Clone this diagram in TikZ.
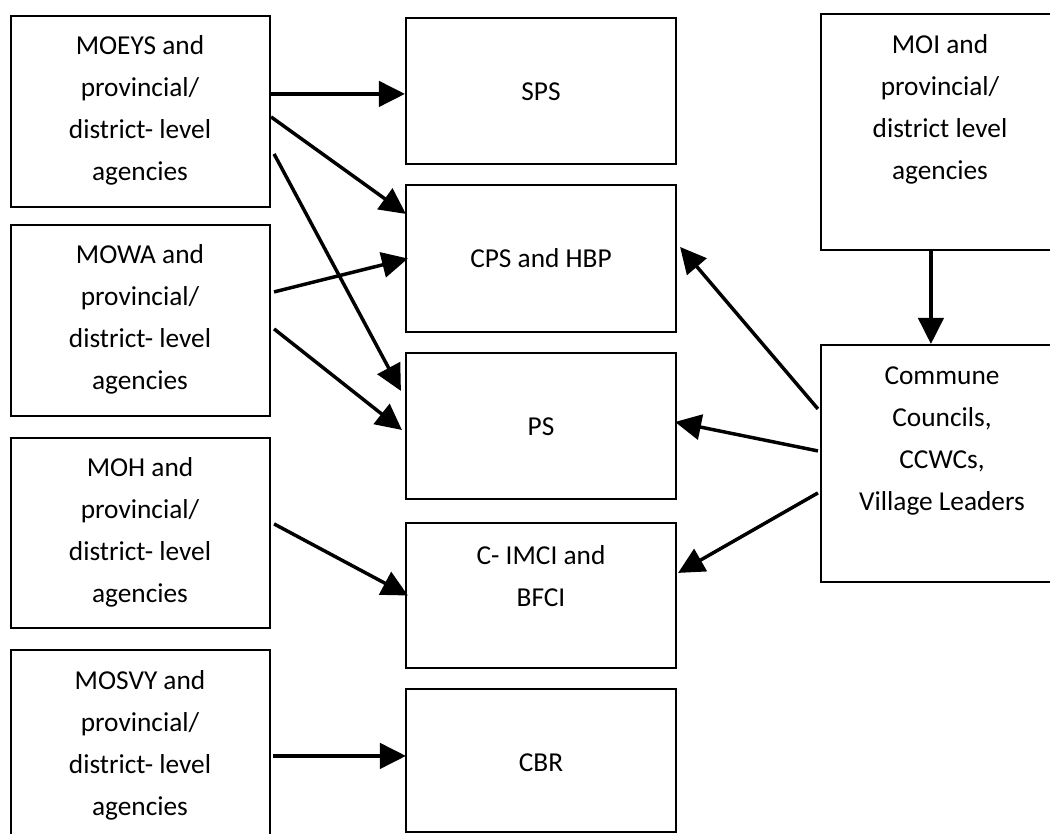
\documentclass[tikz,border=0pt]{standalone}
\usepackage{fontspec}
\setmainfont{Carlito}
\usetikzlibrary{arrows.meta,calc,fit}
\begin{document}
\begin{tikzpicture}[x=0.75pt,y=-0.75pt,
  box/.style={draw,line width=1.6pt,inner sep=0pt},
  txt/.style={align=center,inner sep=0pt,font=\fontsize{20.5pt}{31.5pt}\selectfont},
  arr/.style={line width=2.6pt,-{Triangle[length=19.5pt,width=19pt]}}]
\useasboundingbox (0,0) rectangle (1050,834);
\clip (0,0) rectangle (1050,834);
\fill[white] (0,0) rectangle (1050,834);
% left column
\node[box,fit={(11,16) (270,207)}] (moeys) {};
\node[box,fit={(11,225) (270,416)}] (mowa) {};
\node[box,fit={(11,438) (270,628)}] (moh) {};
\node[box,fit={(11,650) (270,845)}] (mosvy) {};
% middle column
\node[box,fit={(406,18) (676,164)}] (sps) {};
\node[box,fit={(406,185) (676,332)}] (cps) {};
\node[box,fit={(406,353) (676,499)}] (ps) {};
\node[box,fit={(406,523) (676,668)}] (cimci) {};
\node[box,fit={(406,689) (676,832)}] (cbr) {};
% right column
\node[box,fit={(821,14) (1065,250)}] (moi) {};
\node[box,fit={(821,345) (1065,582)}] (commune) {};
% texts
\node[txt] (moeyst) at (140,110.5) {MOEYS and\\provincial/\\district- level\\agencies};
\node[txt] (mowat) at (140,319.5) {MOWA and\\provincial/\\district- level\\agencies};
\node[txt] (moht) at (140,532.5) {MOH and\\provincial/\\district- level\\agencies};
\node[txt] (mosvyt) at (140,745.5) {MOSVY and\\provincial/\\district- level\\agencies};
\node[txt] (spst) at (541,92) {SPS};
\node[txt] (cpst) at (541,258) {CPS and HBP};
\node[txt] (pst) at (541,427) {PS};
\node[txt] (cimcit) at (541,576.5) {C- IMCI and\\BFCI};
\node[txt] (cbrt) at (541,763) {CBR};
\node[txt] (moit) at (940,109.5) {MOI and\\provincial/\\district level\\agencies};
\node[txt] (communet) at (942,440.5) {Commune\\Councils,\\CCWCs,\\Village Leaders};
% connectors
\draw[arr] ($(moeys.north east)+(0,79)$) -- ($(sps.north west)+(0,77)$);
\draw[arr] ($(moeys.north east)+(0,102)$) -- ($(cps.north west)+(1,30)$);
\draw[arr] ($(moeys.north east)+(3,139)$) -- ($(ps.north west)+(-4,39)$);
\draw[arr] ($(mowa.north east)+(3,68)$) -- ($(cps.west)+(3,0)$);
\draw[arr] ($(mowa.north east)+(3,105)$) -- ($(ps.west)+(-3,4)$);
\draw[arr] ($(moh.north east)+(3,87)$) -- ($(cimci.west)+(3,0)$);
\draw[arr] ($(mosvy.north east)+(2,107)$) -- ($(cbr.north west)+(1,68)$);
\draw[arr] ($(moi.south west)+(111,0)$) -- ($(commune.north west)+(111,0)$);
\draw[arr] ($(commune.north west)+(-2,65)$) -- ($(cps.north east)+(3,63)$);
\draw[arr] ($(commune.north west)+(-2,107)$) -- ($(ps.north east)+(-2,70)$);
\draw[arr] ($(commune.north west)+(-2,149)$) -- ($(cimci.north east)+(1,51)$);
\end{tikzpicture}
\end{document}
